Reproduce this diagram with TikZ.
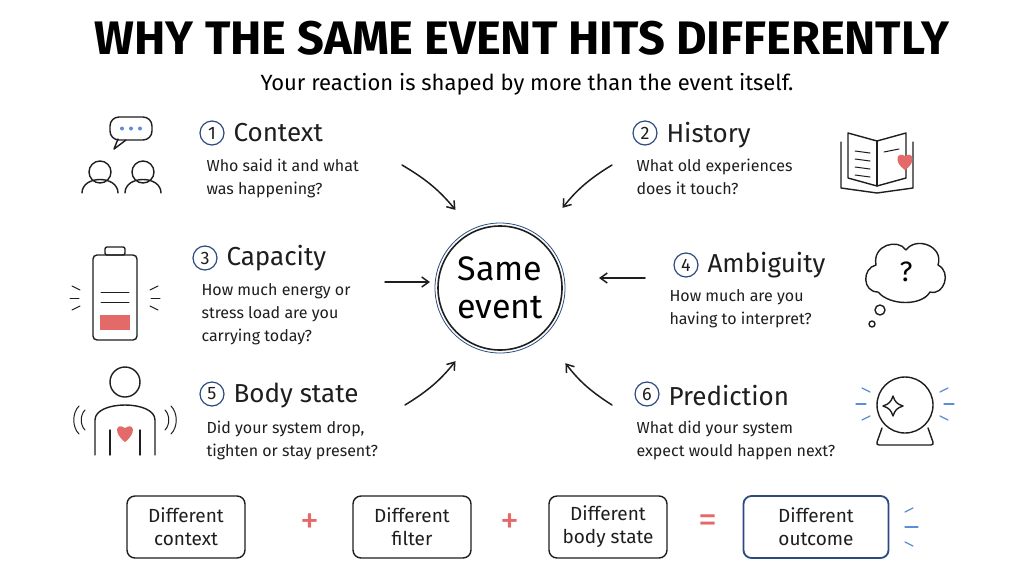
\documentclass[tikz,border=0pt]{standalone}
\usepackage{fontspec}
\setmainfont{Fira Sans}
\usetikzlibrary{arrows.meta}
\definecolor{ink}{HTML}{1E1E1E}
\definecolor{heart}{HTML}{E46A6A}
\definecolor{navy}{HTML}{2B4A80}
\definecolor{sky}{HTML}{5B8ED6}
\begin{document}
\begin{tikzpicture}[x=1pt,y=-1pt,line cap=round,line join=round,
  ink/.style={draw=ink,line width=1.4pt},
  num/.style={circle,draw=navy,line width=1.2pt,minimum size=24pt,inner sep=0pt,font=\fontsize{18}{18}\selectfont,text=ink},
  head/.style={anchor=west,font=\fontsize{26}{26}\selectfont,text=ink},
  desc/.style={anchor=north west,align=left,font=\fontsize{16}{23}\selectfont,text=ink},
  arr/.style={draw=ink,line width=1.5pt,-{Straight Barb[length=7pt,width=10pt]}},
  box/.style={draw=ink,line width=1.4pt,rounded corners=8pt,minimum width=118pt,minimum height=62pt,align=center,font=\fontsize{19}{23}\selectfont,text=ink},
  op/.style={text=heart,font=\fontsize{38}{38}\selectfont}]
\useasboundingbox (0,0) rectangle (1024,576);
\fill[white] (0,0) rectangle (1024,576);
\node (title) at (522,38) {\fontsize{47}{47}\selectfont\bfseries WHY THE SAME EVENT HITS DIFFERENTLY};
\node (sub) at (527,84) {\fontsize{22}{22}\selectfont Your reaction is shaped by more than the event itself.};
% center
\node[circle,draw=ink,line width=1.6pt,minimum size=124pt,align=center,font=\fontsize{34}{38}\selectfont] (ev) at (500,288) {Same\\event};
\draw[navy,line width=0.8pt] (500,288) circle (65);
% items
\node[num] (n1) at (212,133) {1}; \node[head] (h1) at (230,133) {Context};
\node[desc] (d1) at (203,155) {Who said it and what\\was happening?};
\node[num] (n2) at (645,133) {2}; \node[head] (h2) at (663,135) {History};
\node[desc] (d2) at (633,155) {What old experiences\\does it touch?};
\node[num] (n3) at (205,258) {3}; \node[head] (h3) at (223,258) {Capacity};
\node[desc] (d3) at (198,280) {How much energy or\\stress load are you\\carrying today?};
\node[num] (n4) at (686,265) {4}; \node[head] (h4) at (704,265) {Ambiguity};
\node[desc] (d4) at (666,286) {How much are you\\having to interpret?};
\node[num] (n5) at (212,394) {5}; \node[head] (h5) at (230,396) {Body state};
\node[desc] (d5) at (203,417) {Did your system drop,\\tighten or stay present?};
\node[num] (n6) at (647,394) {6}; \node[head] (h6) at (665,396) {Prediction};
\node[desc] (d6) at (633,417) {What did your system\\expect would happen next?};
% arrows
\coordinate (a1) at (402,165); \coordinate (a2) at (612,165);
\coordinate (a3) at (385,282); \coordinate (a4) at (645,278);
\coordinate (a5) at (405,405); \coordinate (a6) at (612,405);
\draw[arr,shorten >=4pt] (a1) to[bend left=10] (458,213);
\draw[arr,shorten >=4pt] (a2) to[bend right=10] (560,211);
\draw[arr] (a3) -- (430,282);
\draw[arr] (a4) -- (599,278);
\draw[arr,shorten >=4pt] (a5) to[bend right=10] (458,358);
\draw[arr,shorten >=4pt] (a6) to[bend left=10] (563,360);
% icon: people
\draw[ink] (100,172) circle (11); \draw[ink] (82,193) .. controls (82,175) and (118,175) .. (118,193);
\draw[ink] (143,172) circle (11); \draw[ink] (125,193) .. controls (125,175) and (161,175) .. (161,193);
\draw[ink,rounded corners=9pt] (110,117) rectangle (152,140);
\draw[ink] (118,139) -- (114,149) -- (126,140);
\foreach \x in {122,131,140} \fill[sky] (\x,128.5) circle (2);
% book
\draw[ink] (848,133) -- (877,141) -- (906,133) -- (906,178) -- (877,186) -- (848,178) -- cycle;
\draw[ink] (877,141) -- (877,186);
\draw[ink] (841,142) -- (841,188) -- (877,193) -- (913,188) -- (913,142);
\foreach \y in {151,159,167,175} \draw[ink,line width=1pt] (855,\y) -- (870,\y+2);
\draw[ink,line width=1pt] (884,152) -- (899,149);
\fill[heart] (905,170) .. controls (893,162) and (897,151) .. (905,156) .. controls (913,151) and (917,162) .. (905,170);
% battery
\draw[ink,rounded corners=4pt] (93,255) rectangle (137,340);
\draw[ink,rounded corners=2pt] (105,247) rectangle (125,255);
\fill[heart] (100,315) rectangle (130,330);
\foreach \y in {292,302} \draw[ink,line width=1pt] (101,\y) -- (129,\y);
\draw[ink,line width=1pt] (72,286) -- (80,290); \draw[ink,line width=1pt] (70,298) -- (79,298); \draw[ink,line width=1pt] (72,310) -- (80,306);
\draw[ink,line width=1pt] (158,286) -- (150,290); \draw[ink,line width=1pt] (160,298) -- (151,298); \draw[ink,line width=1pt] (158,310) -- (150,306);
% thought bubble
\draw[ink] (878,292) .. controls (862,292) and (862,268) .. (876,265) .. controls (872,245) and (898,238) .. (906,250) .. controls (916,236) and (944,246) .. (938,265) .. controls (952,272) and (944,296) .. (930,292) .. controls (922,306) and (890,306) .. (878,292);
\draw[ink] (880,310) circle (5); \draw[ink] (872,324) circle (3);
\node[font=\fontsize{28}{28}\selectfont] (q) at (906,272) {?};
% body
\draw[ink] (125,382) circle (15);
\draw[ink] (95,455) -- (95,420) .. controls (95,400) and (155,400) .. (155,420) -- (155,455);
\draw[ink] (110,455) -- (110,430); \draw[ink] (140,455) -- (140,430);
\fill[heart] (125,442) .. controls (113,433) and (116,422) .. (125,428) .. controls (134,422) and (137,433) .. (125,442);
\draw[ink,line width=1pt] (85,410) .. controls (80,415) and (80,425) .. (85,430);
\draw[ink,line width=1pt] (79,406) .. controls (72,413) and (72,427) .. (79,434);
\draw[ink,line width=1pt] (165,410) .. controls (170,415) and (170,425) .. (165,430);
\draw[ink,line width=1pt] (171,406) .. controls (178,413) and (178,427) .. (171,434);
% crystal ball
\draw[ink] (905,405) circle (28);
\draw[ink,rounded corners=3pt] (882,428) -- (876,445) -- (934,445) -- (928,428);
\draw[ink] (893,396) .. controls (895,402) and (897,404) .. (903,406) .. controls (897,408) and (895,410) .. (893,416) .. controls (891,410) and (889,408) .. (883,406) .. controls (889,404) and (891,402) .. (893,396);
\draw[sky,line width=1.2pt] (862,388) -- (870,392);
\draw[sky,line width=1.2pt] (856,404) -- (866,404);
\draw[sky,line width=1.2pt] (862,420) -- (870,416);
\draw[sky,line width=1.2pt] (948,388) -- (940,392);
\draw[sky,line width=1.2pt] (954,404) -- (944,404);
\draw[sky,line width=1.2pt] (948,420) -- (940,416);
% bottom row
\node[box] (b1) at (186,527) {Different\\context};
\node[op] (p1) at (310,524) {+};
\node[box] (b2) at (412,527) {Different\\filter};
\node[op] (p2) at (510,524) {+};
\node[box] (b3) at (608,527) {Different\\body state};
\node[op] (eq) at (708,524) {=};
\node[box,draw=navy,line width=1.8pt,minimum width=145pt] (b4) at (816,527) {Different\\outcome};
\draw[sky,line width=1.2pt] (905,512) -- (913,508); \draw[sky,line width=1.2pt] (905,527) -- (918,527); \draw[sky,line width=1.2pt] (905,542) -- (913,546);
\end{tikzpicture}
\end{document}
